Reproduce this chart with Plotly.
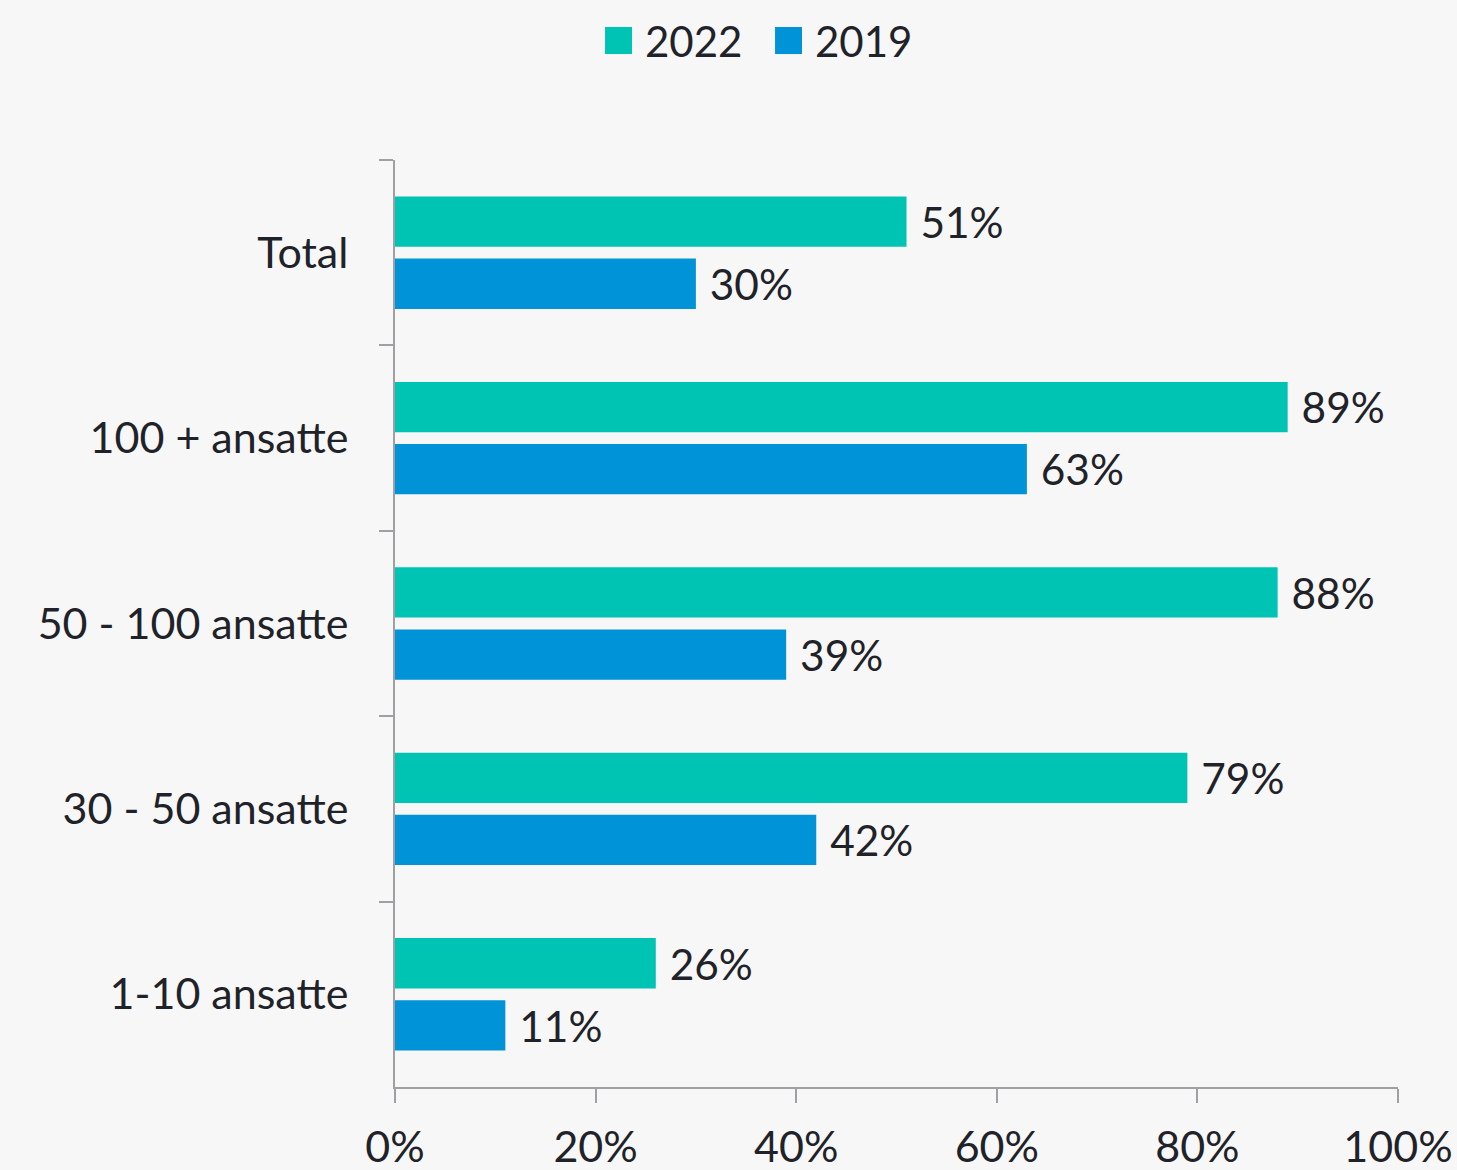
import plotly.graph_objects as go

categories = ["Total", "100 + ansatte", "50 - 100 ansatte", "30 - 50 ansatte", "1-10 ansatte"]
values_2022 = [51, 89, 88, 79, 26]
values_2019 = [30, 63, 39, 42, 11]
series_names = ["2022", "2019"]
series_colors = ["#00C4B3", "#0093D8"]
x_ticks = [0, 20, 40, 60, 80, 100]
x_tick_labels = ["0%", "20%", "40%", "60%", "80%", "100%"]

FONT = "Lato, 'Open Sans', sans-serif"
TXT = "#1F2329"
AX = "#A0A0A4"

fig = go.Figure()
for name, vals, col in zip(series_names, [values_2022, values_2019], series_colors):
    fig.add_trace(go.Bar(
        y=categories, x=vals, orientation="h", name=name,
        marker=dict(color=col, line=dict(width=0)),
        texttemplate="\u00a0%{x}%", textposition="outside",
        textfont=dict(size=43, color=TXT, family=FONT), cliponaxis=False,
        showlegend=False,
    ))

# custom legend (large square swatches like the reference)
legend_x = [0.2094, 0.3789]
shapes = []
annotations = []
for lx, name, col in zip(legend_x, series_names, series_colors):
    shapes.append(dict(type="rect", xref="paper", yref="paper",
                       x0=lx, x1=lx + 0.0269, y0=1.1143, y1=1.1435,
                       fillcolor=col, line=dict(width=0)))
    annotations.append(dict(xref="paper", yref="paper", x=lx + 0.0379, y=1.1289,
                            xanchor="left", yanchor="middle", showarrow=False,
                            text=name, font=dict(size=42, color=TXT, family=FONT)))

fig.update_layout(
    width=1457, height=1170,
    paper_bgcolor="#F7F7F7", plot_bgcolor="#F7F7F7",
    font=dict(family=FONT, size=42, color=TXT),
    barmode="group", bargap=0.33, bargroupgap=0.19,
    margin=dict(l=395, r=59, t=160, b=83, autoexpand=False),
    showlegend=False,
    shapes=shapes, annotations=annotations,
)
fig.update_xaxes(
    range=[0, 100], tickvals=x_ticks, ticktext=x_tick_labels,
    showgrid=False, zeroline=False, showline=True, linecolor=AX, linewidth=2,
    ticks="outside", ticklen=14, tickwidth=2, tickcolor=AX,
    tickfont=dict(size=43, color=TXT, family=FONT), ticklabelstandoff=7,
)
fig.update_yaxes(
    autorange="reversed", showgrid=False, zeroline=False,
    showline=True, linecolor=AX, linewidth=2,
    ticks="outside", ticklen=14, tickwidth=2, tickcolor=AX, tickson="boundaries",
    tickfont=dict(size=43, color=TXT, family=FONT), ticklabelstandoff=36,
)

fig.write_html("out.html", config={"displayModeBar": False},
               post_script="document.body.style.margin='0';document.body.style.overflow='hidden';")
